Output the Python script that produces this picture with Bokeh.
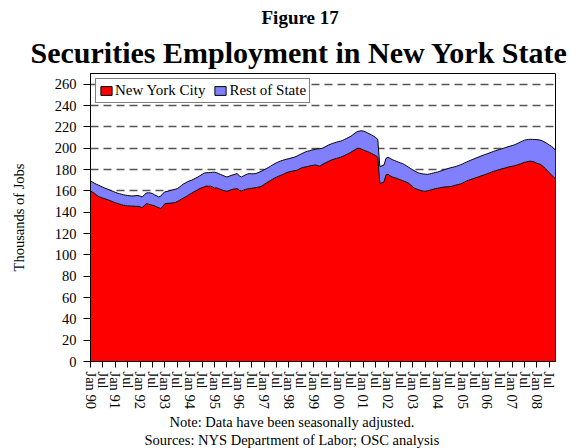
import math
from bokeh.plotting import figure
from bokeh.models import (ColumnDataSource, FixedTicker, SingleIntervalTicker, Title,
                          Legend, LegendItem, Range1d)
from bokeh.embed import file_html
from bokeh.resources import INLINE

# Monthly securities employment (thousands), Jan 1990 - Oct 2008
nyc = [
    160.0, 158.8, 157.5, 156.0, 154.5, 153.8, 153.2, 152.5, 151.8, 151.2, 150.4, 149.6,  # 1990
    148.8, 148.2, 147.6, 147.0, 146.5, 146.2, 145.8, 145.9, 145.6, 145.7, 145.4, 145.5,  # 1991
    145.0, 144.3, 146.0, 148.0, 147.5, 147.0, 146.5, 146.0, 145.0, 144.2, 143.4, 145.5,  # 1992
    148.0, 148.2, 148.3, 148.5, 148.8, 149.0, 150.0, 151.0, 152.2, 153.3, 154.3, 155.5,  # 1993
    156.8, 157.8, 159.0, 160.0, 161.2, 162.2, 163.0, 163.7, 164.5, 164.2, 164.3, 163.8,  # 1994
    162.5, 162.8, 162.0, 161.3, 160.6, 160.0, 159.6, 160.2, 161.0, 161.5, 161.9, 162.1,  # 1995
    160.5, 159.9, 160.6, 161.3, 161.8, 162.1, 162.4, 162.7, 163.0, 163.4, 163.8, 164.5,  # 1996
    166.0, 167.2, 168.4, 169.5, 170.7, 171.8, 172.8, 173.7, 174.5, 175.3, 176.2, 177.2,  # 1997
    177.8, 178.2, 178.6, 179.0, 179.3, 180.5, 181.4, 182.0, 182.4, 182.8, 183.3, 183.7,  # 1998
    184.0, 184.3, 183.5, 183.1, 184.5, 185.6, 186.5, 187.5, 188.4, 189.2, 189.8, 190.4,  # 1999
    191.0, 191.6, 192.3, 193.2, 194.2, 195.0, 196.2, 197.4, 198.6, 199.7, 199.9, 199.2,  # 2000
    198.3, 197.6, 196.8, 196.0, 195.0, 194.0, 193.0, 191.5, 167.0, 167.5, 168.4, 175.0,  # 2001
    175.5, 174.0, 173.0, 172.4, 171.8, 171.0, 170.3, 169.6, 168.8, 168.2, 167.0, 165.5,  # 2002
    163.5, 162.3, 161.5, 160.8, 160.2, 159.7, 159.6, 160.0, 160.5, 161.0, 161.6, 162.1,  # 2003
    162.4, 162.8, 163.2, 163.5, 163.7, 163.8, 164.0, 164.3, 165.0, 165.5, 165.9, 166.5,  # 2004
    167.3, 168.3, 169.3, 170.0, 170.6, 171.3, 172.0, 172.6, 173.3, 174.0, 174.6, 175.3,  # 2005
    176.0, 176.8, 177.5, 178.2, 178.8, 179.4, 180.0, 180.6, 181.1, 181.6, 182.2, 182.7,  # 2006
    183.0, 183.4, 184.0, 184.6, 185.3, 186.0, 186.7, 187.2, 187.6, 187.8, 187.5, 186.8,  # 2007
    185.8, 185.3, 184.4, 183.0, 181.0, 179.0, 177.0, 175.0, 173.0, 171.5,                # 2008
]

state_total = [
    169.2, 168.2, 167.0, 166.0, 165.2, 164.3, 163.4, 162.5, 161.8, 161.0, 160.2, 159.4,  # 1990
    158.6, 157.9, 157.3, 156.8, 156.3, 155.9, 155.6, 155.4, 155.2, 155.3, 155.5, 155.6,  # 1991
    155.0, 154.3, 156.0, 158.0, 158.2, 158.0, 157.5, 156.2, 155.3, 154.3, 155.0, 157.5,  # 1992
    159.0, 159.4, 160.0, 160.5, 161.0, 161.5, 162.0, 163.5, 165.0, 166.5, 167.5, 168.6,  # 1993
    169.4, 170.0, 171.0, 172.0, 173.0, 174.2, 175.5, 176.6, 177.0, 177.0, 177.2, 177.4,  # 1994
    177.5, 177.0, 176.2, 175.3, 174.5, 173.7, 173.0, 173.6, 174.4, 175.0, 175.6, 176.2,  # 1995
    174.0, 173.0, 174.0, 175.0, 175.8, 176.2, 176.0, 176.0, 176.2, 177.0, 177.8, 178.7,  # 1996
    179.6, 180.7, 181.8, 183.0, 184.2, 185.3, 186.3, 187.2, 188.0, 188.6, 189.2, 189.7,  # 1997
    190.2, 190.7, 191.2, 191.8, 192.7, 193.7, 194.7, 195.6, 196.5, 197.1, 197.6, 198.2,  # 1998
    198.6, 199.0, 199.3, 199.5, 199.8, 200.6, 201.7, 202.8, 203.6, 204.4, 205.0, 205.6,  # 1999
    206.2, 206.6, 207.3, 208.2, 209.2, 210.2, 211.2, 212.6, 214.2, 215.4, 216.0, 216.3,  # 2000
    216.0, 215.4, 214.4, 213.4, 212.4, 211.3, 210.0, 208.2, 182.8, 183.4, 184.2, 190.5,  # 2001
    191.5, 190.4, 189.3, 188.5, 187.7, 186.9, 186.2, 185.6, 184.5, 183.3, 182.0, 180.8,  # 2002
    179.6, 178.5, 177.4, 176.6, 176.2, 175.8, 175.6, 175.5, 175.8, 176.3, 176.8, 177.3,  # 2003
    177.6, 178.3, 179.0, 179.6, 180.3, 180.9, 181.5, 182.0, 182.4, 183.0, 183.7, 184.4,  # 2004
    185.2, 186.2, 187.1, 187.9, 188.7, 189.5, 190.3, 191.1, 191.9, 192.6, 193.4, 194.1,  # 2005
    194.8, 195.5, 196.2, 196.9, 197.6, 198.2, 198.8, 199.4, 200.0, 200.7, 201.3, 201.9,  # 2006
    202.4, 203.0, 203.9, 204.8, 205.8, 206.7, 207.5, 208.0, 208.2, 208.3, 208.2, 208.2,  # 2007
    208.0, 207.8, 207.3, 206.5, 205.5, 204.3, 203.0, 201.8, 200.2, 198.0,                # 2008
]

tick_labels = [
    "Jan 90", "Jul", "Jan 91", "Jul", "Jan 92", "Jul", "Jan 93", "Jul", "Jan 94", "Jul",
    "Jan 95", "Jul", "Jan 96", "Jul", "Jan 97", "Jul", "Jan 98", "Jul", "Jan 99", "Jul",
    "Jan 00", "Jul", "Jan 01", "Jul", "Jan 02", "Jul", "Jan 03", "Jul", "Jan 04", "Jul",
    "Jan 05", "Jul", "Jan 06", "Jul", "Jan 07", "Jul", "Jan 08", "Jul",
]
tick_months = [i * 6 for i in range(len(tick_labels))]
months = list(range(len(nyc)))

series_names = ["New York City", "Rest of State"]
series_colors = ["#FF0000", "#8080FF"]

FONT = "Liberation Serif"
NAN = float("nan")

src = ColumnDataSource(data=dict(m=months, nyc=nyc, total=state_total, zero=[0] * len(nyc)))

p = figure(width=580, height=448, output_backend="svg", toolbar_location=None,
           x_range=Range1d(0, 225), y_range=Range1d(0, 270),
           min_border_left=90, min_border_right=25, min_border_top=73, min_border_bottom=87)
p.title = None
p.background_fill_color = "white"
p.border_fill_color = "white"
p.outline_line_color = "black"
p.outline_line_width = 1

p.varea(x="m", y1="zero", y2="nyc", source=src, fill_color=series_colors[0])
p.varea(x="m", y1="nyc", y2="total", source=src, fill_color=series_colors[1])
p.line(x="m", y="nyc", source=src, line_color="black", line_width=1)
p.line(x="m", y="total", source=src, line_color="black", line_width=1)

# legend swatches (no visible geometry)
sw1 = p.quad(left=[NAN], right=[NAN], top=[NAN], bottom=[NAN],
             fill_color=series_colors[0], line_color="black")
sw2 = p.quad(left=[NAN], right=[NAN], top=[NAN], bottom=[NAN],
             fill_color=series_colors[1], line_color="black")
legend = Legend(items=[LegendItem(label=series_names[0], renderers=[sw1]),
                       LegendItem(label=series_names[1], renderers=[sw2])],
                location="top_left", orientation="horizontal")
legend.margin = 5
legend.padding = 3
legend.spacing = 8
legend.label_standoff = 2
legend.glyph_width = 14
legend.glyph_height = 11
legend.label_height = 12
legend.label_text_font = FONT
legend.label_text_font_size = "15px"
legend.label_text_color = "black"
legend.border_line_color = "black"
legend.border_line_width = 1
legend.background_fill_alpha = 1
p.add_layout(legend)

# grid
p.xgrid.grid_line_color = None
p.ygrid.grid_line_color = "#555555"
p.ygrid.grid_line_width = 1.5
p.ygrid.grid_line_dash = "8 5"

# y axis
p.yaxis.ticker = SingleIntervalTicker(interval=20, num_minor_ticks=0)
p.yaxis.axis_label = "Thousands of Jobs"
p.yaxis.axis_label_text_font = FONT
p.yaxis.axis_label_text_font_style = "normal"
p.yaxis.axis_label_text_font_size = "14.5px"
p.yaxis.axis_label_text_color = "black"
p.yaxis.axis_label_standoff = 25
p.yaxis.major_label_text_font = FONT
p.yaxis.major_label_text_font_size = "14.5px"
p.yaxis.major_label_text_color = "black"
p.yaxis.major_tick_out = 7
p.yaxis.major_tick_in = 0
p.yaxis.major_label_standoff = 7
p.yaxis.minor_tick_line_color = None
p.yaxis.axis_line_color = "black"
p.yaxis.major_tick_line_color = "black"

# x axis
p.xaxis.ticker = FixedTicker(ticks=tick_months)
p.xaxis.major_label_overrides = {m: lab for m, lab in zip(tick_months, tick_labels)}
p.xaxis.major_label_orientation = -math.pi / 2
p.xaxis.major_label_text_font = FONT
p.xaxis.major_label_text_font_size = "14.5px"
p.xaxis.major_label_text_color = "black"
p.xaxis.major_tick_out = 6
p.xaxis.major_tick_in = 0
p.xaxis.major_label_standoff = 4
p.xaxis.minor_tick_line_color = None
p.xaxis.axis_line_color = "black"
p.xaxis.major_tick_line_color = "black"

# titles (above) and notes (below); later additions sit further from the frame
def add_title(text, side, size, style, offset, standoff):
    t = Title(text=text, align="left", offset=offset, standoff=standoff,
              text_font=FONT, text_font_size=size, text_font_style=style,
              text_color="black")
    p.add_layout(t, side)

add_title("Securities Employment in New York State", "above", "30px", "bold", -60, 9)
add_title("Figure 17", "above", "19px", "bold", 171, 3)
add_title("Note: Data have been seasonally adjusted.", "below", "14.5px", "normal", 79, 0)
add_title("Sources: NYS Department of Labor; OSC analysis", "below", "14.5px", "normal", 54, 0)

open("out.html", "w").write(file_html(p, INLINE))
